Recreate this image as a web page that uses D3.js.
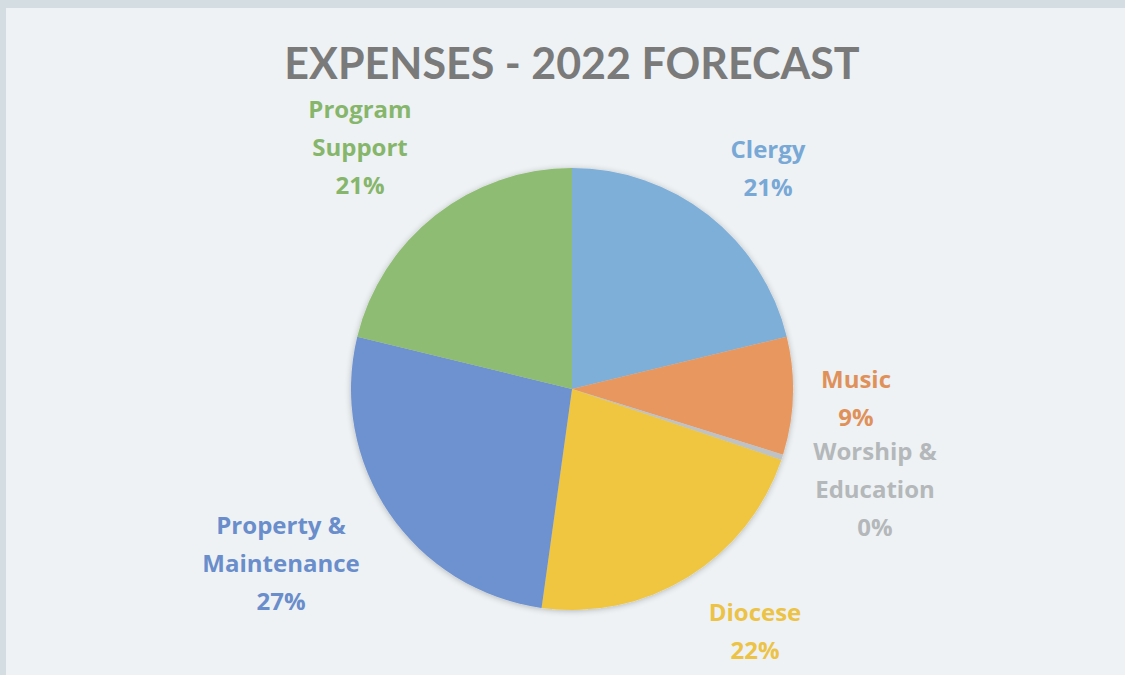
<!DOCTYPE html>
<html>
<head>
<meta charset="utf-8">
<script src="https://cdn.jsdelivr.net/npm/d3@7"></script>
<style>
  body { margin: 0; background: #d3dde2; }
  svg { display: block; }
  text { font-weight: 700; }
</style>
</head>
<body>
<svg id="chart" width="1125" height="675"></svg>
<script>
// data
var categories = ["Clergy", "Music", "Worship & Education", "Diocese", "Property & Maintenance", "Program Support"];
var values = [21.2, 8.6, 0.4, 22.0, 26.6, 21.2];
var sliceColors = ["#7eafd9", "#e8985f", "#bfc2c4", "#f0c63f", "#6e91cf", "#8dbc72"];
var labelColors = ["#78a8d6", "#e0915a", "#b4b8ba", "#ecc347", "#6a8dcb", "#86b66b"];
// label lines (Excel wraps the names like this)
var labelLines = [["Clergy"], ["Music"], ["Worship &", "Education"], ["Diocese"], ["Property &", "Maintenance"], ["Program", "Support"]];
// label block centres relative to the pie centre (layout)
var labelOffset = [[196, -221], [284, 9], [303, 100], [183, 242], [-291, 174], [-212, -242]];

var W = 1125, H = 675;
var cx = 572, cy = 389, r = 221;

var svg = d3.select("#chart");

svg.append("rect").attr("x", 6).attr("y", 8).attr("width", W - 6).attr("height", H - 8).attr("fill", "#eef2f4");

var defs = svg.append("defs");
var f = defs.append("filter").attr("id", "shadow").attr("x", "-20%").attr("y", "-20%").attr("width", "140%").attr("height", "140%");
f.append("feGaussianBlur").attr("in", "SourceAlpha").attr("stdDeviation", 3).attr("result", "b");
f.append("feOffset").attr("in", "b").attr("dx", 0).attr("dy", 1).attr("result", "o");
f.append("feComponentTransfer").attr("in", "o").attr("result", "s")
  .append("feFuncA").attr("type", "linear").attr("slope", 0.25);
var fm = f.append("feMerge");
fm.append("feMergeNode").attr("in", "s");
fm.append("feMergeNode").attr("in", "SourceGraphic");

svg.append("text")
  .attr("x", cx).attr("y", 79)
  .attr("text-anchor", "middle")
  .attr("font-family", "Lato, sans-serif")
  .attr("font-size", 43)
  .attr("fill", "#7a7a7a")
  .text("EXPENSES - 2022 FORECAST");

var pie = d3.pie().sort(null).value(d => d);
var arcs = pie(values);
var arc = d3.arc().innerRadius(0).outerRadius(r);

var g = svg.append("g").attr("transform", `translate(${cx},${cy})`);
g.append("g").attr("filter", "url(#shadow)")
  .selectAll("path").data(arcs).join("path")
  .attr("d", arc)
  .attr("fill", (d, i) => sliceColors[i]);

var lineH = 38;
arcs.forEach(function(d, i) {
  var x = labelOffset[i][0];
  var y = labelOffset[i][1];
  var lines = labelLines[i].concat([Math.round(values[i]) + "%"]);
  var t = g.append("text")
    .attr("text-anchor", "middle")
    .attr("font-family", "'Open Sans', sans-serif")
    .attr("font-size", 24)
    .attr("fill", labelColors[i]);
  var y0 = y - (lines.length - 1) * lineH / 2 + 8.5;
  lines.forEach(function(l, k) {
    t.append("tspan").attr("x", x).attr("y", y0 + k * lineH).text(l);
  });
});
</script>
</body>
</html>
